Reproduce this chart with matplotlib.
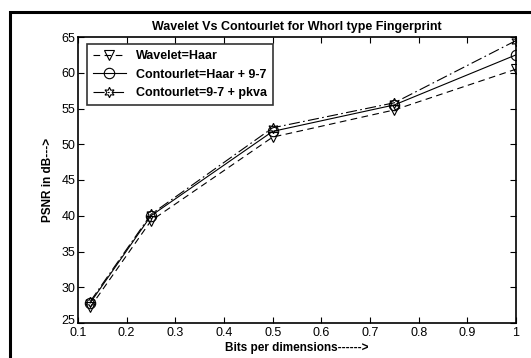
import numpy as np
import matplotlib
matplotlib.use("Agg")
import matplotlib.pyplot as plt
import matplotlib.transforms as mtransforms
from matplotlib.patches import Rectangle

plt.rcParams['font.family'] = ['Liberation Sans', 'DejaVu Sans']

# data
bpp = [0.125, 0.25, 0.5, 0.75, 1.0]
wavelet_haar = [27.2, 39.3, 51.0, 54.8, 60.5]
contour_haar97 = [27.8, 40.0, 51.8, 55.5, 62.5]
contour_97pkva = [28.0, 40.2, 52.3, 55.8, 64.5]
labels = ["Wavelet=Haar", "Contourlet=Haar + 9-7", "Contourlet=9-7 + pkva"]
xtick_labels = ['0.1', '0.2', '0.3', '0.4', '0.5', '0.6', '0.7', '0.8', '0.9', '1']

fig = plt.figure(figsize=(5.31, 3.58), dpi=100)
ax = fig.add_axes([78/531, 1-323/358, (516-78)/531, (323-37)/358])

# outer frame around the figure
fig.patches.append(Rectangle((10/531, -0.05), 1.0, 1-12/358+0.05, transform=fig.transFigure,
                             fill=False, edgecolor='black', linewidth=2.2))

hexagram = (6, 1, 0)
ax.plot(bpp, wavelet_haar, 'k', ls=(0, (6, 4)), marker='v', mfc='none', ms=7.5, lw=0.8, mew=0.8, label=labels[0])
ax.plot(bpp, contour_haar97, 'k-', marker='o', mfc='none', ms=7.5, lw=0.8, mew=0.8, label=labels[1])
ax.plot(bpp, contour_97pkva, 'k', ls=(0, (10, 3, 1.5, 3)), marker=hexagram, mfc='none', ms=7.5, lw=0.8, mew=0.8, label=labels[2])

ax.set_xlim(0.1, 1.0)
ax.set_ylim(25, 65)
ax.set_xticks(np.arange(0.1, 1.01, 0.1))
ax.set_xticklabels(xtick_labels)
ax.set_yticks(range(25, 66, 5))
ax.tick_params(direction='in', length=4, width=0.8, labelsize=9, top=True, right=True,
               labeltop=False, labelright=False, pad=2)
ax.tick_params(axis='x', pad=3)
for s in ax.spines.values():
    s.set_linewidth(1.2)

# nudge the lowest y label up a bit, like the reference
lab25 = ax.get_yticklabels()[0]
lab25.set_transform(lab25.get_transform() + mtransforms.ScaledTranslation(0, 3/100, fig.dpi_scale_trans))

ax.set_title("Wavelet Vs Contourlet for Whorl type Fingerprint", fontsize=9, fontweight='bold', pad=5)
ax.set_xlabel("Bits per dimensions------>", fontsize=8.5, fontweight='bold', labelpad=2)
ax.set_ylabel("PSNR in dB--->", fontsize=8.5, fontweight='bold', labelpad=5)

leg = ax.legend(loc='upper left', bbox_to_anchor=(0.02, 0.975), prop={'size': 9, 'weight': 'bold'},
                fancybox=False, frameon=True, edgecolor='black', borderpad=0.5,
                handlelength=2.6, labelspacing=0.5, borderaxespad=0)
leg.get_frame().set_linewidth(1.2)

fig.savefig("out.png", dpi=100)
